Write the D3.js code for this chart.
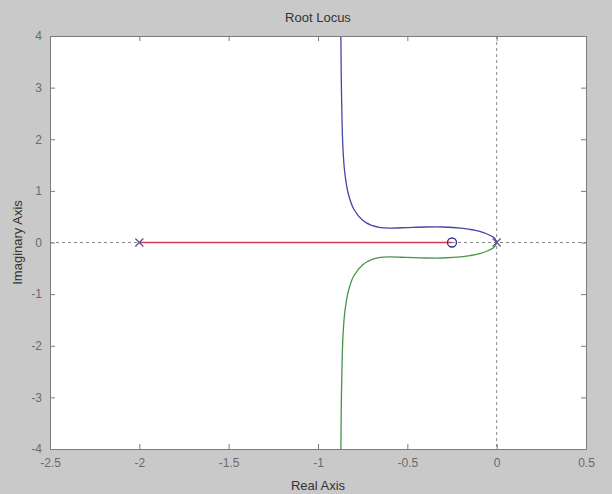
<!DOCTYPE html>
<html>
<head>
<meta charset="utf-8">
<script src="https://cdn.jsdelivr.net/npm/d3@7"></script>
<style>
  html, body { margin: 0; padding: 0; background: #c9c9c9; }
  svg { display: block; font-family: "Liberation Sans", Arial, sans-serif; }
</style>
</head>
<body>
<svg id="chart"></svg>
<script>
// DATA
const xTicks = [-2.5, -2, -1.5, -1, -0.5, 0, 0.5];
const yTicks = [-4, -3, -2, -1, 0, 1, 2, 3, 4];

// upper branch (blue), [real, imag]
const upperBranch = [
  [0, 0], [-0.01, 0.075], [-0.02, 0.105], [-0.05, 0.16], [-0.1, 0.22],
  [-0.15, 0.255], [-0.2, 0.28], [-0.3, 0.30], [-0.4, 0.30], [-0.5, 0.29],
  [-0.6, 0.28], [-0.65, 0.29], [-0.7, 0.33], [-0.75, 0.43], [-0.8, 0.65],
  [-0.83, 0.94], [-0.85, 1.35], [-0.86, 1.8], [-0.865, 2.3], [-0.87, 3.25],
  [-0.871, 3.65], [-0.872, 4.0]
];
// lower branch (green)
const lowerBranch = [
  [0, 0], [-0.01, -0.075], [-0.02, -0.105], [-0.05, -0.16], [-0.1, -0.22],
  [-0.15, -0.255], [-0.2, -0.28], [-0.3, -0.30], [-0.4, -0.30], [-0.5, -0.29],
  [-0.6, -0.28], [-0.65, -0.29], [-0.7, -0.33], [-0.75, -0.43], [-0.8, -0.65],
  [-0.83, -0.94], [-0.85, -1.35], [-0.86, -1.8], [-0.865, -2.3], [-0.87, -3.25],
  [-0.871, -3.65], [-0.872, -4.0]
];
// real-axis branch (red)
const realBranch = [[-2, 0], [-0.25, 0]];

const poles = [[-2, 0], [0, 0]];
const zeros = [[-0.25, 0]];

// LAYOUT
const width = 612, height = 494;
const margin = { top: 36, right: 26, bottom: 45, left: 50 };

const svg = d3.select("#chart").attr("width", width).attr("height", height);

svg.append("rect").attr("width", width).attr("height", height).attr("fill", "#c9c9c9");

const xScale = d3.scaleLinear().domain([-2.5, 0.5]).range([margin.left, width - margin.right]);
const yScale = d3.scaleLinear().domain([-4, 4]).range([height - margin.bottom, margin.top]);

const x0 = xScale.range()[0], x1 = xScale.range()[1];
const yTop = yScale.range()[1], yBot = yScale.range()[0];

// plot area
svg.append("rect")
  .attr("x", x0).attr("y", yTop)
  .attr("width", x1 - x0).attr("height", yBot - yTop)
  .attr("fill", "#ffffff");

const plot = svg.append("g");
svg.append("clipPath").attr("id", "clip")
  .append("rect").attr("x", x0).attr("y", yTop).attr("width", x1 - x0).attr("height", yBot - yTop);
plot.attr("clip-path", "url(#clip)");

// dotted axes through zero
plot.append("line")
  .attr("x1", x0).attr("x2", x1)
  .attr("y1", yScale(0)).attr("y2", yScale(0))
  .attr("stroke", "#888").attr("stroke-dasharray", "3,3");
plot.append("line")
  .attr("x1", xScale(0)).attr("x2", xScale(0))
  .attr("y1", yTop).attr("y2", yBot)
  .attr("stroke", "#888").attr("stroke-dasharray", "3,3");

const straight = d3.line().x(d => xScale(d[0])).y(d => yScale(d[1]));
const smooth = d3.line().x(d => xScale(d[0])).y(d => yScale(d[1])).curve(d3.curveCatmullRom);

plot.append("path").datum(realBranch).attr("d", straight)
  .attr("fill", "none").attr("stroke", "#d23c4a").attr("stroke-width", 1.3);

plot.append("path").datum(upperBranch).attr("d", smooth)
  .attr("fill", "none").attr("stroke", "#4646a6").attr("stroke-width", 1.3);

plot.append("path").datum(lowerBranch).attr("d", smooth)
  .attr("fill", "none").attr("stroke", "#4a9448").attr("stroke-width", 1.3);

// pole markers
const s = 4;
poles.forEach(p => {
  const cx = xScale(p[0]), cy = yScale(p[1]);
  plot.append("path")
    .attr("d", `M${cx - s},${cy - s}L${cx + s},${cy + s}M${cx - s},${cy + s}L${cx + s},${cy - s}`)
    .attr("stroke", "#5a4f9a").attr("stroke-width", 1.2).attr("fill", "none");
});

// zero markers
plot.selectAll(".zero").data(zeros).enter().append("circle")
  .attr("cx", d => xScale(d[0])).attr("cy", d => yScale(d[1]))
  .attr("r", 4.5).attr("fill", "none").attr("stroke", "#2e2e96").attr("stroke-width", 1.3);

// axes box with inward ticks
const tickLen = 5;
const axisColor = "#7c7c7c";

const xAxisB = d3.axisBottom(xScale).tickValues(xTicks).tickSizeInner(-tickLen).tickSizeOuter(0)
  .tickPadding(9).tickFormat(d => String(d));
const xAxisT = d3.axisTop(xScale).tickValues(xTicks).tickSizeInner(-tickLen).tickSizeOuter(0).tickFormat("");
const yAxisL = d3.axisLeft(yScale).tickValues(yTicks).tickSizeInner(-tickLen).tickSizeOuter(0)
  .tickPadding(8).tickFormat(d => String(d));
const yAxisR = d3.axisRight(yScale).tickValues(yTicks).tickSizeInner(-tickLen).tickSizeOuter(0).tickFormat("");

function style(g) {
  g.select(".domain").attr("stroke", axisColor);
  g.selectAll(".tick line").attr("stroke", axisColor);
  g.selectAll(".tick text").attr("fill", "#6a6a6a").style("font-size", "12px");
}

svg.append("g").attr("transform", `translate(0,${yBot})`).call(xAxisB).call(style);
svg.append("g").attr("transform", `translate(0,${yTop})`).call(xAxisT).call(style);
svg.append("g").attr("transform", `translate(${x0},0)`).call(yAxisL).call(style);
svg.append("g").attr("transform", `translate(${x1},0)`).call(yAxisR).call(style);

// titles
svg.append("text")
  .attr("x", (x0 + x1) / 2).attr("y", 22)
  .attr("text-anchor", "middle").attr("fill", "#333")
  .style("font-size", "13px").text("Root Locus");

svg.append("text")
  .attr("x", (x0 + x1) / 2).attr("y", 490)
  .attr("text-anchor", "middle").attr("fill", "#333")
  .style("font-size", "13px").text("Real Axis");

svg.append("text")
  .attr("transform", `translate(22,${(yTop + yBot) / 2}) rotate(-90)`)
  .attr("text-anchor", "middle").attr("fill", "#333")
  .style("font-size", "13px").text("Imaginary Axis");
</script>
</body>
</html>
